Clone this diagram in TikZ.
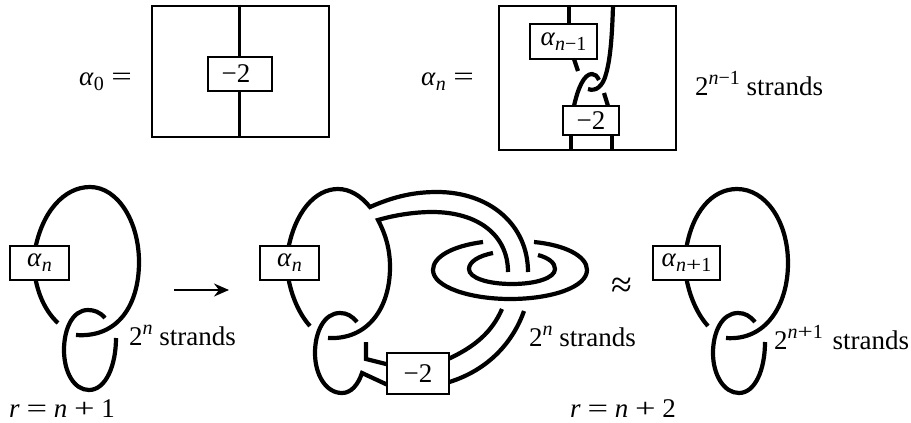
\documentclass[tikz,border=0pt]{standalone}
\usepackage{fontspec}
\usepackage{graphicx}
\setmainfont{Liberation Serif}
\usetikzlibrary{arrows.meta}
\newcommand{\mi}[1]{\textit{#1}}
\newcommand{\sbs}[1]{\raisebox{-5pt}{\fontsize{20}{20}\selectfont #1}}
\newcommand{\sps}[1]{\raisebox{11pt}{\fontsize{20}{20}\selectfont #1}}
\newcommand{\bigeq}{\scalebox{1.35}[1]{=}}
\newcommand{\bigpl}{\scalebox{1.35}[1]{+}}
\tikzset{
  strand/.style={line width=4.2pt,line cap=butt,line join=miter},
  frame/.style={draw,line width=2.8pt,fill=white,inner sep=0pt},
  lab/.style={inner sep=0pt,font=\fontsize{27}{27}\selectfont}
}
\begin{document}
\begin{tikzpicture}[x=1pt,y=-1pt]
\useasboundingbox (0,0) rectangle (911,423);
% top left
\node[frame,minimum width=177pt,minimum height=131pt] (A) at (240.5,71.5) {};
\draw[line width=2.8pt] (A.north -| 239.5,0) -- (A.south -| 239.5,0);
\node[frame,lab,minimum width=64pt,minimum height=34pt] (B) at (240,74) {\hspace*{-8pt}−2};
\node[lab,anchor=base west] (t1) at (79,85) {\mi{α}\sbs{0}\;\bigeq};
% top right
\node[frame,minimum width=177pt,minimum height=144pt] (C) at (587.5,78) {};
\draw[strand] (569,6) -- (569,24);
\draw[strand] (574,59) -- (578,71);
\draw[strand] (574,106) .. controls (578,88) and (584,74) .. (592,74) .. controls (595,74) and (597,76) .. (599,80);
\draw[strand] (613,6) .. controls (612,40) and (610,60) .. (606,74) .. controls (603,86) and (596,92) .. (588,89);
\draw[strand] (604,93) -- (608,106);
\draw[strand] (571,135) -- (571,150);
\draw[strand] (612,135) -- (612,150);
\node[frame,lab,minimum width=67pt,minimum height=35pt] (D) at (563.5,41.5) {\mi{α}\sbs{\mi{n}−1}};
\node[frame,lab,minimum width=56pt,minimum height=29pt] (E) at (591,120.5) {−2};
\node[lab,anchor=base west] (t2) at (421,85) {\mi{α}\sbs{\mi{n}}\;\bigeq};
\node[lab,anchor=base west] (t3) at (695,95) {2\sps{\mi{n}−1} strands};
% bottom left
\draw[strand] (35,250) .. controls (42,212) and (64,187) .. (90,187) .. controls (118,187) and (139,222) .. (139,262) .. controls (139,305) and (118,338) .. (76,335);
\draw[strand] (35,276) .. controls (38,295) and (46,312) .. (58,323);
\draw[strand] (105,318) .. controls (100,312) and (94,310) .. (88,310) .. controls (72,310) and (64,330) .. (64,350) .. controls (64,372) and (74,390) .. (89,390) .. controls (106,390) and (116,365) .. (116,338);
\node[frame,lab,minimum width=59pt,minimum height=34pt] (F) at (39.5,263) {\mi{α}\sbs{\mi{n}}};
\coordinate (a1) at (174,290);
\coordinate (a2) at (229,290);
\draw[line width=2.2pt,-{Stealth[length=15pt,width=13pt,inset=5pt]}] (a1) -- (a2);
\node[lab,anchor=base west] (t4) at (129,345) {2\sps{\mi{n}} strands};
\node[lab,anchor=base west] (t5) at (9,417) {\mi{r} \bigeq{} \mi{n} \bigpl{} 1};
% middle
\draw[strand] (288,250) .. controls (295,212) and (315,189) .. (338,189) .. controls (350,189) and (361,196) .. (370,207) .. controls (395,196) and (415,192) .. (437,192) .. controls (490,192) and (528,225) .. (528,272);
\draw[strand] (508,272) .. controls (508,235) and (478,212) .. (432,212) .. controls (415,212) and (395,215) .. (378,220) .. controls (386,235) and (390,250) .. (390,267) .. controls (390,308) and (368,340) .. (328,338);
\draw[strand] (288,276) .. controls (291,295) and (299,314) .. (310,326);
\draw[strand] (357,322) .. controls (352,316) and (347,313) .. (340,313) .. controls (324,313) and (315,332) .. (315,353) .. controls (315,375) and (326,393) .. (342,393) .. controls (351,393) and (358,385) .. (362,373) -- (390,386);
\draw[strand] (366,342) -- (366,359) -- (390,365);
\draw[strand] (446,360) .. controls (475,347) and (492,332) .. (502,309);
\draw[strand] (446,383) .. controls (485,372) and (512,345) .. (524,311);
\draw[strand] (483,242) .. controls (452,246) and (433,257) .. (433,270) .. controls (433,287) and (470,299) .. (510,299) .. controls (552,299) and (587,287) .. (587,270) .. controls (587,256) and (565,245) .. (534,242);
\draw[strand] (493,253) .. controls (478,256) and (469,262) .. (469,269) .. controls (469,278) and (488,284) .. (512,284) .. controls (536,284) and (555,278) .. (555,269) .. controls (555,263) and (549,258) .. (538,255);
\node[frame,lab,minimum width=59pt,minimum height=34pt] (G) at (289.5,263) {\mi{α}\sbs{\mi{n}}};
\node[frame,lab,minimum width=62pt,minimum height=41pt] (H) at (418,373.5) {−2};
\node[lab,anchor=base west] (t6) at (529,346) {2\sps{\mi{n}} strands};
\node[lab] (t7) at (622,288) {\scalebox{1.4}{≈}};
\node[lab,anchor=base west] (t8) at (570,417) {\mi{r} \bigeq{} \mi{n} \bigpl{} 2};
% right
\draw[strand] (686,250) .. controls (692,212) and (712,189) .. (737,189) .. controls (766,189) and (788,222) .. (788,263) .. controls (788,305) and (766,341) .. (726,338);
\draw[strand] (686,276) .. controls (689,295) and (697,314) .. (708,326);
\draw[strand] (755,322) .. controls (750,316) and (745,313) .. (738,313) .. controls (722,313) and (713,332) .. (713,353) .. controls (713,375) and (724,393) .. (739,393) .. controls (755,393) and (765,370) .. (765,342);
\node[frame,lab,minimum width=67pt,minimum height=34pt] (I) at (686.5,263) {\mi{α}\sbs{\mi{n}\bigpl{}1}};
\node[lab,anchor=base west] (t9) at (774,349) {2\sps{\mi{n}\bigpl{}1}\hspace{3pt} strands};
\end{tikzpicture}
\end{document}
